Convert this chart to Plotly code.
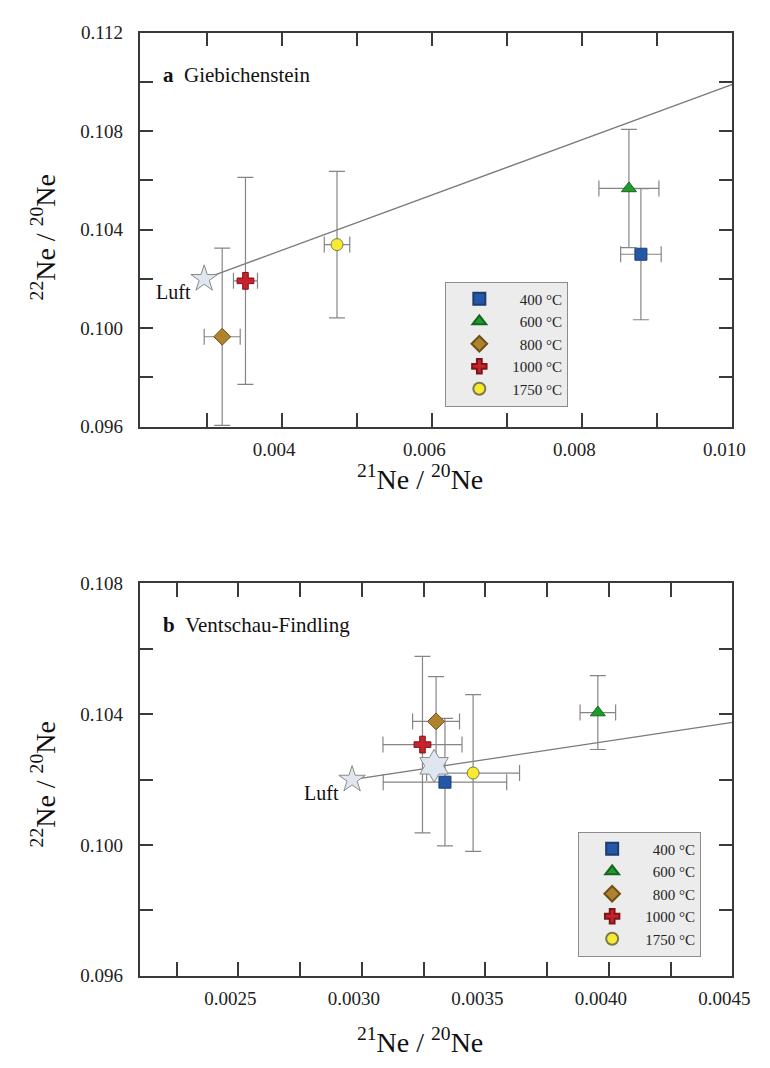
import plotly.graph_objects as go

# Step-heating temperatures and marker styles
temps = ["400 °C", "600 °C", "800 °C", "1000 °C", "1750 °C"]
legend_names = ["\u00a0\u00a0400 °C", "\u00a0\u00a0600 °C", "\u00a0\u00a0800 °C", "1000 °C", "1750 °C"]
symbols = ["square", "triangle-up", "diamond", "cross", "circle"]
fills = ["#2457a6", "#1f9a2c", "#b0822c", "#c8222c", "#f6ea32"]
edges = ["#1b3c72", "#16661f", "#6e5119", "#7e1519", "#7a7a4a"]
sizes = [12, 13, 13, 14, 12]

# (a) Giebichenstein: 21Ne/20Ne, 22Ne/20Ne with 1-sigma errors
a_x = [0.00878, 0.00862, 0.00320, 0.00351, 0.00473]
a_xerr = [0.00027, 0.00040, 0.00024, 0.00016, 0.00017]
a_y = [0.10300, 0.10567, 0.09965, 0.10192, 0.10339]
a_yerr = [0.00266, 0.00240, 0.00360, 0.00420, 0.00297]

# (b) Ventschau-Findling
b_x = [0.003336, 0.003955, 0.003300, 0.003245, 0.003450]
b_xerr = [0.00025, 0.000072, 0.000095, 0.00016, 0.000188]
b_y = [0.10192, 0.10405, 0.10378, 0.10307, 0.10220]
b_yerr = [0.00195, 0.00113, 0.00137, 0.00270, 0.00240]
b_total_x = [0.003292]
b_total_y = [0.10242]

# Atmospheric neon ("Luft") and mass-fractionation line
air_x = [0.00296]
air_y = [0.1020]
a_line_x = [0.00296, 0.0100]
a_line_y = [0.1020, 0.1099]
b_line_x = [0.00296, 0.0045]
b_line_y = [0.1020, 0.10375]

# Axis ticks
a_xticks = [0.004, 0.006, 0.008, 0.010]
a_xticktext = ["0.004", "0.006", "0.008", "0.010"]
a_xminor = [0.003, 0.005, 0.007, 0.009]
b_xticks = [0.0025, 0.0030, 0.0035, 0.0040, 0.0045]
b_xticktext = ["0.0025", "0.0030", "0.0035", "0.0040", "0.0045"]
b_xminor = [0.00225, 0.00275, 0.00325, 0.00375, 0.00425]
a_yticks = [0.096, 0.100, 0.104, 0.108, 0.112]
a_yticktext = ["0.096", "0.100", "0.104", "0.108", "0.112"]
a_yminor = [0.098, 0.102, 0.106, 0.110]
b_yticks = [0.096, 0.100, 0.104, 0.108]
b_yticktext = ["0.096", "0.100", "0.104", "0.108"]
b_yminor = [0.098, 0.102, 0.106]

FONT = "Liberation Serif, Times New Roman, serif"
AX = "#3a3a3a"
ERR = "#858585"

W, H = 770, 1068
fig = go.Figure()


def add_panel(xs, ys, xerr, yerr, line_x, line_y, xa, ya, legend, star_size):
    fig.add_trace(go.Scatter(x=line_x, y=line_y, mode="lines", xaxis=xa, yaxis=ya,
                             line=dict(color="#7a7a7a", width=1.3), showlegend=False,
                             hoverinfo="skip"))
    fig.add_trace(go.Scatter(x=air_x, y=air_y, mode="markers", xaxis=xa, yaxis=ya,
                             marker=dict(symbol="star", size=star_size, color="#dfe6ef",
                                         line=dict(color="#8a8a8a", width=1)),
                             showlegend=False))
    for i in range(len(temps)):
        fig.add_trace(go.Scatter(
            x=[xs[i]], y=[ys[i]], mode="markers", name=legend_names[i],
            xaxis=xa, yaxis=ya, legend=legend,
            error_x=dict(type="data", array=[xerr[i]], color=ERR, thickness=1.2, width=8),
            error_y=dict(type="data", array=[yerr[i]], color=ERR, thickness=1.2, width=8),
            marker=dict(symbol=symbols[i], size=sizes[i], color=fills[i],
                        line=dict(color=edges[i], width=1)),
        ))


add_panel(a_x, a_y, a_xerr, a_yerr, a_line_x, a_line_y, "x", "y", "legend", 20)
add_panel(b_x, b_y, b_xerr, b_yerr, b_line_x, b_line_y, "x2", "y2", "legend2", 20)
fig.add_trace(go.Scatter(x=b_total_x, y=b_total_y, mode="markers", xaxis="x2", yaxis="y2",
                         marker=dict(symbol="hexagram", size=25, color="#dfe6ef",
                                     line=dict(color="#8a8a8a", width=1)),
                         showlegend=False))


def axis_style(domain, rng, tickvals, ticktext, minorvals, anchor, is_x):
    d = dict(domain=domain, range=rng, anchor=anchor,
             tickmode="array", tickvals=tickvals, ticktext=ticktext,
             showline=True, linecolor=AX, linewidth=1.5, mirror="ticks",
             ticks="inside", ticklen=14, tickwidth=1.5, tickcolor=AX,
             ticklabelstandoff=5 if is_x else 11,
             minor=dict(tickmode="array", tickvals=minorvals, ticks="inside",
                        ticklen=14, tickwidth=1.5, tickcolor=AX),
             showgrid=False, zeroline=False,
             tickfont=dict(family=FONT, size=19, color="#222"))
    if is_x:
        # labels sit slightly left of their ticks so the last one stays on the page
        d["ticklabelshift"] = -8
    return d


xd = [143 / W, 750 / W]
ya_dom = [1 - 425 / H, 1 - 23 / H]
yb_dom = [1 - 985 / H, 1 - 585 / H]

legend_common = dict(bgcolor="#ececec", bordercolor="#8c8c8c", borderwidth=1,
                     font=dict(family=FONT, size=15, color="#222"),
                     tracegroupgap=0, itemsizing="constant", itemwidth=56,
                     xanchor="left", yanchor="top")

ann = []
ann.append(dict(x=165 / W, y=1 - 66 / H, xref="paper", yref="paper", xanchor="left",
                yanchor="middle", showarrow=False,
                text="<b>a</b>\u00a0\u00a0Giebichenstein",
                font=dict(family=FONT, size=21, color="#111")))
ann.append(dict(x=165 / W, y=1 - 627 / H, xref="paper", yref="paper", xanchor="left",
                yanchor="middle", showarrow=False,
                text="<b>b</b>\u00a0\u00a0Ventschau-Findling",
                font=dict(family=FONT, size=21, color="#111")))
for xr, yr in (("x", "y"), ("x2", "y2")):
    ann.append(dict(x=air_x[0], y=air_y[0], xref=xr, yref=yr, xanchor="right",
                    yanchor="middle", xshift=-11, yshift=-13, showarrow=False,
                    text="Luft", font=dict(family=FONT, size=20, color="#111")))
for yc in (477, 1051):
    ann.append(dict(x=430 / W, y=1 - yc / H, xref="paper", yref="paper",
                    xanchor="center", yanchor="middle", showarrow=False,
                    text="<sup>21</sup>Ne / <sup>20</sup>Ne",
                    font=dict(family=FONT, size=28, color="#111")))
for yc in (232, 790):
    ann.append(dict(x=45 / W, y=1 - yc / H, xref="paper", yref="paper",
                    xanchor="center", yanchor="middle", showarrow=False, textangle=-90,
                    text="<sup>22</sup>Ne / <sup>20</sup>Ne",
                    font=dict(family=FONT, size=28, color="#111")))

fig.update_layout(
    width=W, height=H, margin=dict(l=0, r=0, t=0, b=0),
    paper_bgcolor="white", plot_bgcolor="white",
    xaxis=axis_style(xd, [0.0021, 0.0100], a_xticks, a_xticktext, a_xminor, "y", True),
    yaxis=axis_style(ya_dom, [0.096, 0.112], a_yticks, a_yticktext, a_yminor, "x", False),
    xaxis2=axis_style(xd, [0.0021, 0.0045], b_xticks, b_xticktext, b_xminor, "y2", True),
    yaxis2=axis_style(yb_dom, [0.096, 0.108], b_yticks, b_yticktext, b_yminor, "x2", False),
    legend=dict(x=456 / W, y=1 - 277 / H, **legend_common),
    legend2=dict(x=592 / W, y=1 - 838 / H, **legend_common),
    annotations=ann,
    showlegend=True,
)

# page without body margin or scrollbars, so the figure fills the window exactly
page_css = ("document.body.style.margin='0';"
            "document.body.style.overflow='hidden';"
            "document.documentElement.style.overflow='hidden';")
fig.write_html("out.html", post_script=page_css)
